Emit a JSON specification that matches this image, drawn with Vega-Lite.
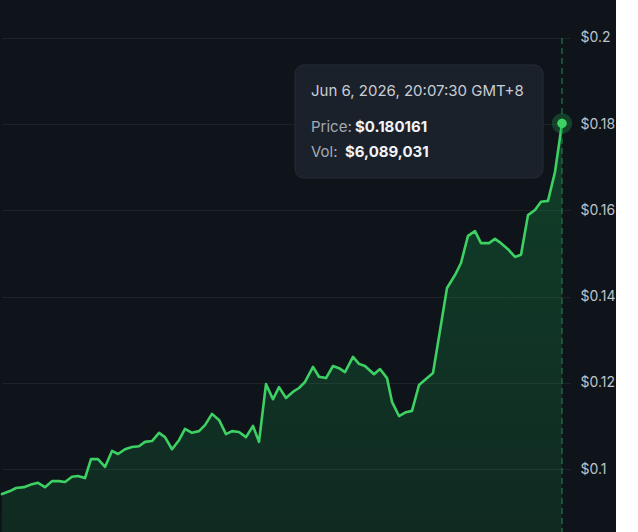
{
  "$schema": "https://vega.github.io/schema/vega-lite/v6.json",
  "width": 568,
  "height": 532,
  "padding": 0,
  "background": "#0f131a",
  "view": {"stroke": null},
  "config": {"font": "Inter"},
  "datasets": {
    "price": [
      {"h": 0.0, "p": 0.0942}, {"h": 2.4, "p": 0.0949}, {"h": 4.2, "p": 0.0956}, {"h": 6.6, "p": 0.0958},
      {"h": 9.0, "p": 0.0965}, {"h": 10.8, "p": 0.0968}, {"h": 12.9, "p": 0.0958}, {"h": 15.0, "p": 0.0972},
      {"h": 17.1, "p": 0.0972}, {"h": 18.9, "p": 0.0970}, {"h": 21.0, "p": 0.0982}, {"h": 22.8, "p": 0.0984},
      {"h": 24.9, "p": 0.0979}, {"h": 26.7, "p": 0.1023}, {"h": 28.8, "p": 0.1023}, {"h": 30.9, "p": 0.1005},
      {"h": 33.0, "p": 0.1042}, {"h": 34.8, "p": 0.1035}, {"h": 36.9, "p": 0.1046}, {"h": 39.0, "p": 0.1051},
      {"h": 41.1, "p": 0.1053}, {"h": 42.9, "p": 0.1063}, {"h": 45.0, "p": 0.1065}, {"h": 47.1, "p": 0.1084},
      {"h": 48.9, "p": 0.1074}, {"h": 51.0, "p": 0.1046}, {"h": 53.1, "p": 0.1067}, {"h": 54.9, "p": 0.1093},
      {"h": 57.0, "p": 0.1084}, {"h": 59.1, "p": 0.1088}, {"h": 60.9, "p": 0.1102}, {"h": 63.0, "p": 0.1128},
      {"h": 65.1, "p": 0.1114}, {"h": 67.2, "p": 0.1081}, {"h": 69.0, "p": 0.1088}, {"h": 71.1, "p": 0.1086},
      {"h": 73.2, "p": 0.1074}, {"h": 75.3, "p": 0.1100}, {"h": 77.1, "p": 0.1063}, {"h": 79.2, "p": 0.1197},
      {"h": 81.3, "p": 0.1162}, {"h": 83.1, "p": 0.1190}, {"h": 85.2, "p": 0.1165}, {"h": 87.6, "p": 0.1181},
      {"h": 89.1, "p": 0.1188}, {"h": 90.9, "p": 0.1202}, {"h": 93.3, "p": 0.1237}, {"h": 95.1, "p": 0.1214},
      {"h": 97.2, "p": 0.1211}, {"h": 99.3, "p": 0.1239}, {"h": 101.1, "p": 0.1234}, {"h": 102.9, "p": 0.1225},
      {"h": 105.3, "p": 0.1260}, {"h": 107.1, "p": 0.1244}, {"h": 108.9, "p": 0.1239}, {"h": 111.6, "p": 0.1220},
      {"h": 113.4, "p": 0.1232}, {"h": 115.5, "p": 0.1211}, {"h": 117.0, "p": 0.1156}, {"h": 119.1, "p": 0.1123},
      {"h": 121.2, "p": 0.1132}, {"h": 123.0, "p": 0.1135}, {"h": 125.1, "p": 0.1195}, {"h": 127.2, "p": 0.1209},
      {"h": 129.3, "p": 0.1223}, {"h": 133.5, "p": 0.1420}, {"h": 135.9, "p": 0.1450}, {"h": 137.7, "p": 0.1478},
      {"h": 139.8, "p": 0.1541}, {"h": 141.9, "p": 0.1552}, {"h": 143.7, "p": 0.1524}, {"h": 146.1, "p": 0.1524},
      {"h": 147.9, "p": 0.1534}, {"h": 149.7, "p": 0.1524}, {"h": 151.8, "p": 0.1510}, {"h": 153.9, "p": 0.1492},
      {"h": 155.7, "p": 0.1497}, {"h": 157.8, "p": 0.1589}, {"h": 159.9, "p": 0.1601}, {"h": 161.7, "p": 0.1620},
      {"h": 163.8, "p": 0.1622}, {"h": 165.9, "p": 0.1689}, {"h": 168.0, "p": 0.180161}
    ],
    "last": [{"h": 168.0, "p": 0.180161, "top": 0.2, "bottom": 0.0854}],
    "box": [{"x1": 87.9, "x2": 162.3, "y1": 0.19374, "y2": 0.16752}],
    "labels": [
      {"h": 92.7, "p": 0.1877, "t": "Jun 6, 2026, 20:07:30 GMT+8", "k": "date"},
      {"h": 92.7, "p": 0.17935, "t": "Price:", "k": "lab"},
      {"h": 92.7, "p": 0.17355, "t": "Vol:", "k": "lab"},
      {"h": 105.9, "p": 0.17935, "t": "$0.180161", "k": "val"},
      {"h": 102.9, "p": 0.17355, "t": "$6,089,031", "k": "val"}
    ]
  },
  "encoding": {
    "x": {"field": "h", "type": "quantitative", "scale": {"domain": [0, 170.4]}, "axis": null},
    "y": {
      "field": "p", "type": "quantitative",
      "scale": {"domain": [0.0854, 0.2088], "zero": false, "nice": false},
      "axis": {
        "orient": "right", "title": null, "values": [0.1, 0.12, 0.14, 0.16, 0.18, 0.2],
        "format": "$.2~f", "domain": false, "ticks": false, "labelPadding": 10,
        "labelColor": "#bcc3cc", "labelFontSize": 14, "labelFont": "Inter",
        "grid": true, "gridColor": "#1e232b", "gridWidth": 1
      }
    }
  },
  "layer": [
    {
      "data": {"name": "price"},
      "mark": {
        "type": "area", "interpolate": "linear",
        "color": {
          "gradient": "linear", "x1": 0, "y1": 0, "x2": 0, "y2": 1,
          "stops": [
            {"offset": 0, "color": "rgba(22,163,74,0.30)"},
            {"offset": 1, "color": "rgba(22,163,74,0.03)"}
          ]
        }
      }
    },
    {
      "data": {"name": "price"},
      "mark": {"type": "line", "color": "#3dd163", "strokeWidth": 2.6, "strokeJoin": "round", "strokeCap": "round"}
    },
    {
      "data": {"name": "last"},
      "mark": {"type": "rule", "color": "#1f7a48", "strokeWidth": 1.2, "strokeDash": [6, 4]},
      "encoding": {"y": {"field": "top", "type": "quantitative"}, "y2": {"field": "bottom"}}
    },
    {
      "data": {"name": "last"},
      "mark": {"type": "point", "filled": true, "size": 420, "color": "#22c55e", "opacity": 0.25}
    },
    {
      "data": {"name": "last"},
      "mark": {"type": "point", "filled": true, "size": 90, "color": "#3dd163", "opacity": 1}
    },
    {
      "data": {"name": "box"},
      "mark": {"type": "rect", "fill": "#1b212a", "stroke": "#262c36", "strokeWidth": 1, "cornerRadius": 9},
      "encoding": {
        "x": {"field": "x1", "type": "quantitative"},
        "x2": {"field": "x2"},
        "y": {"field": "y1", "type": "quantitative"},
        "y2": {"field": "y2"}
      }
    },
    {
      "data": {"name": "labels"},
      "transform": [{"filter": "datum.k == 'date'"}],
      "mark": {"type": "text", "align": "left", "baseline": "middle", "font": "Inter", "fontSize": 15, "color": "#c9ced6"},
      "encoding": {"text": {"field": "t"}}
    },
    {
      "data": {"name": "labels"},
      "transform": [{"filter": "datum.k == 'lab'"}],
      "mark": {"type": "text", "align": "left", "baseline": "middle", "font": "Inter", "fontSize": 15, "color": "#a3abb6"},
      "encoding": {"text": {"field": "t"}}
    },
    {
      "data": {"name": "labels"},
      "transform": [{"filter": "datum.k == 'val'"}],
      "mark": {"type": "text", "align": "left", "baseline": "middle", "font": "Inter", "fontSize": 15, "fontWeight": "bold", "color": "#f1f4f7"},
      "encoding": {"text": {"field": "t"}}
    }
  ]
}
